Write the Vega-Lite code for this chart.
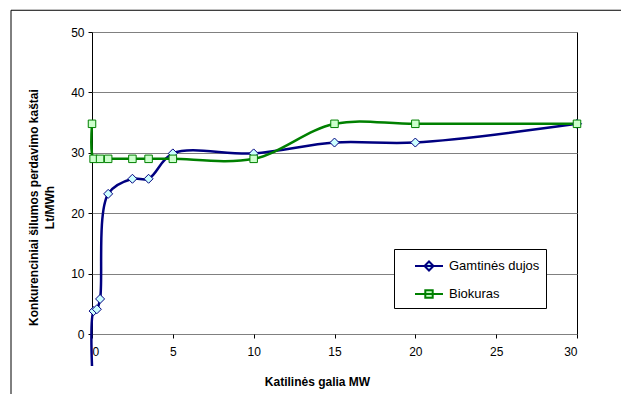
{
  "$schema": "https://vega.github.io/schema/vega-lite/v6.json",
  "width": 485,
  "height": 302,
  "autosize": "none",
  "padding": {"left": 92, "top": 32, "right": 44, "bottom": 60},
  "background": "white",
  "config": {
    "font": "Liberation Sans",
    "view": {"stroke": "black", "strokeWidth": 1},
    "axis": {
      "labelFont": "Liberation Sans",
      "labelFontSize": 12,
      "labelColor": "black",
      "titleFont": "Liberation Sans",
      "titleFontSize": 12,
      "titleFontWeight": "bold",
      "titleColor": "black",
      "tickColor": "black",
      "tickSize": 4,
      "domain": false
    },
    "legend": {
      "title": null,
      "orient": "none",
      "legendX": 302,
      "legendY": 217,
      "direction": "vertical",
      "strokeColor": "black",
      "fillColor": "white",
      "padding": 6,
      "rowPadding": 8,
      "symbolSize": 400,
      "symbolOffset": 18,
      "labelOffset": 9,
      "labelFont": "Liberation Sans",
      "labelFontSize": 13,
      "labelColor": "black"
    }
  },
  "data": {
    "values": [
      {"kuras": "Gamtinės dujos", "galia": 0, "kastai": -5.3},
      {"kuras": "Gamtinės dujos", "galia": 0.1, "kastai": 3.8},
      {"kuras": "Gamtinės dujos", "galia": 0.3, "kastai": 4.1},
      {"kuras": "Gamtinės dujos", "galia": 0.5, "kastai": 5.8},
      {"kuras": "Gamtinės dujos", "galia": 1, "kastai": 23.2},
      {"kuras": "Gamtinės dujos", "galia": 2.5, "kastai": 25.7},
      {"kuras": "Gamtinės dujos", "galia": 3.5, "kastai": 25.7},
      {"kuras": "Gamtinės dujos", "galia": 5, "kastai": 29.9},
      {"kuras": "Gamtinės dujos", "galia": 10, "kastai": 29.9},
      {"kuras": "Gamtinės dujos", "galia": 15, "kastai": 31.7},
      {"kuras": "Gamtinės dujos", "galia": 20, "kastai": 31.7},
      {"kuras": "Gamtinės dujos", "galia": 30, "kastai": 34.8},
      {"kuras": "Biokuras", "galia": 0, "kastai": 34.8},
      {"kuras": "Biokuras", "galia": 0.1, "kastai": 29},
      {"kuras": "Biokuras", "galia": 0.5, "kastai": 29},
      {"kuras": "Biokuras", "galia": 1, "kastai": 29},
      {"kuras": "Biokuras", "galia": 2.5, "kastai": 29},
      {"kuras": "Biokuras", "galia": 3.5, "kastai": 29},
      {"kuras": "Biokuras", "galia": 5, "kastai": 29},
      {"kuras": "Biokuras", "galia": 10, "kastai": 29},
      {"kuras": "Biokuras", "galia": 15, "kastai": 34.8},
      {"kuras": "Biokuras", "galia": 20, "kastai": 34.8},
      {"kuras": "Biokuras", "galia": 30, "kastai": 34.8}
    ]
  },
  "layer": [
    {
      "data": {"values": [{}]},
      "mark": {"type": "rect", "fill": null, "stroke": "black", "strokeWidth": 1, "clip": false},
      "encoding": {
        "x": {"datum": -5.01, "type": "quantitative"},
        "x2": {"datum": 45},
        "y": {"datum": 53.6, "type": "quantitative"},
        "y2": {"datum": -20}
      }
    },
    {
      "mark": {"type": "line", "interpolate": "catmull-rom", "strokeWidth": 2.5, "clip": false},
      "encoding": {
        "x": {
          "field": "galia", "type": "quantitative",
          "scale": {"domain": [0, 30], "nice": false, "zero": false},
          "axis": {
            "values": [0, 5, 10, 15, 20, 25, 30],
            "grid": false,
            "labelPadding": 8,
            "title": "Katilinės galia MW",
            "titleX": 225,
            "titleY": 47,
            "titleBaseline": "middle"
          }
        },
        "y": {
          "field": "kastai", "type": "quantitative",
          "scale": {"domain": [0, 50], "nice": false, "zero": false},
          "axis": {
            "values": [0, 10, 20, 30, 40, 50],
            "grid": true,
            "gridColor": "#808080",
            "gridWidth": 1,
            "labelPadding": 4,
            "title": ["Konkurenciniai šilumos perdavimo kaštai", "Lt/MWh"],
            "titleLineHeight": 16,
            "titleAngle": -90,
            "titleAlign": "center",
            "titleBaseline": "middle",
            "titleX": -59,
            "titleY": 175
          }
        },
        "color": {
          "field": "kuras", "type": "nominal",
          "scale": {"domain": ["Gamtinės dujos", "Biokuras"], "range": ["#000080", "#008000"]},
          "legend": {
            "encode": {
              "symbols": {
                "update": {
                  "shape": {"signal": "datum.value === 'Biokuras' ? 'M-1.4,0H1.4M-0.37,-0.37H0.37V0.37H-0.37Z' : 'M-1.4,0H1.4M0,-0.45L0.45,0L0,0.45L-0.45,0Z'"},
                  "fill": {"signal": "datum.value === 'Biokuras' ? '#CCFFCC' : '#CCFFFF'"},
                  "strokeWidth": {"value": 2}
                }
              }
            }
          }
        },
        "order": {"field": "galia", "type": "quantitative"}
      }
    },
    {
      "transform": [{"filter": "datum.kuras === 'Gamtinės dujos' && datum.kastai >= 0"}],
      "mark": {"type": "point", "filled": false, "shape": "M0,-0.9L0.9,0L0,0.9L-0.9,0Z", "fill": "#CCFFFF", "strokeWidth": 1, "opacity": 1, "size": 100},
      "encoding": {
        "x": {"field": "galia", "type": "quantitative"},
        "y": {"field": "kastai", "type": "quantitative"},
        "color": {"field": "kuras", "type": "nominal"}
      }
    },
    {
      "transform": [{"filter": "datum.kuras === 'Biokuras'"}],
      "mark": {"type": "point", "filled": false, "shape": "M-0.75,-0.75H0.75V0.75H-0.75Z", "fill": "#CCFFCC", "strokeWidth": 1, "opacity": 1, "size": 100},
      "encoding": {
        "x": {"field": "galia", "type": "quantitative"},
        "y": {"field": "kastai", "type": "quantitative"},
        "color": {"field": "kuras", "type": "nominal"}
      }
    }
  ]
}
